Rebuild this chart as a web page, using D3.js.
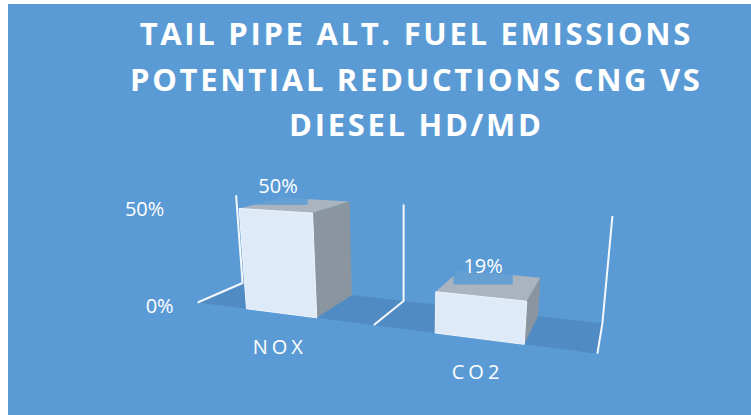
<!DOCTYPE html>
<html><head><meta charset="utf-8">
<script src="https://cdn.jsdelivr.net/npm/d3@7"></script>
<style>body{margin:0;background:#fff;overflow:hidden}</style></head>
<body>
<svg id="c" width="751" height="415"></svg>
<script>
// ---- data ----
const titleLines = ["TAIL PIPE ALT. FUEL EMISSIONS", "POTENTIAL REDUCTIONS CNG VS", "DIESEL HD/MD"];
const categories = ["NOX", "CO2"];
const values = [0.50, 0.19];
const yTicks = [0, 0.5];
const yMax = 0.5;

// ---- setup ----
const W = 751, H = 415;
const svg = d3.select("#c");
svg.append("rect").attr("x", 8).attr("y", 4).attr("width", W - 8).attr("height", H - 4).attr("fill", "#5B9BD5");

// world-space scales (3D)
const xWorld = d3.scaleBand().domain(categories).range([0, 2]).paddingInner(0.6).paddingOuter(0.3);
const yWorld = d3.scaleLinear().domain([0, yMax]).range([0, 0.51]);
const depth = 0.4;

// perspective camera
const deg = Math.PI / 180, yaw = 20.4 * deg, pitch = 15.6 * deg, focal = 607, pcx = 403, pcy = 281;
const cam = [2.061, 0.9615, -2.462];
const hf = [-Math.sin(yaw), 0, Math.cos(yaw)];
const R = [Math.cos(yaw), 0, Math.sin(yaw)];
const F = [Math.cos(pitch) * hf[0], -Math.sin(pitch), Math.cos(pitch) * hf[2]];
const U = [Math.sin(pitch) * hf[0], Math.cos(pitch), Math.sin(pitch) * hf[2]];
function proj(x, y, z) {
  const v = [x - cam[0], y - cam[1], z - cam[2]];
  const dot = a => a[0] * v[0] + a[1] * v[1] + a[2] * v[2];
  const zc = dot(F);
  return [pcx + focal * dot(R) / zc, pcy - focal * dot(U) / zc];
}
const poly = pts => pts.map(p => proj(p[0], p[1], p[2]).join(",")).join(" ");

const [x0w, x1w] = xWorld.range();

// floor
svg.append("polygon")
  .attr("points", poly([[x0w, 0, 0], [x1w, 0, 0], [x1w, 0, depth], [x0w, 0, depth]]))
  .attr("fill", "#508bc3");

// gridlines at category boundaries
const bounds = d3.range(categories.length + 1).map(i => x0w + i * xWorld.step());
const yTop = yWorld(yMax);
svg.selectAll("polyline.grid").data(bounds).join("polyline")
  .attr("class", "grid")
  .attr("points", b => [proj(b, 0, 0), proj(b, 0, depth), proj(b, yTop, depth)].map(p => p.join(",")).join(" "))
  .attr("fill", "none").attr("stroke", "#f4f8fc").attr("stroke-width", 2).attr("stroke-linejoin", "round");

// bars
const bars = categories.map((c, i) => ({ c, v: values[i], x0: xWorld(c), x1: xWorld(c) + xWorld.bandwidth(), y: yWorld(values[i]) }));
const g = svg.append("g");
bars.forEach(b => {
  g.append("polygon").attr("points", poly([[b.x0, b.y, 0], [b.x1, b.y, 0], [b.x1, b.y, depth], [b.x0, b.y, depth]]))
    .attr("fill", "#a9b4bf");
  g.append("polygon").attr("points", poly([[b.x1, 0, 0], [b.x1, 0, depth], [b.x1, b.y, depth], [b.x1, b.y, 0]]))
    .attr("fill", "#8b959f");
  g.append("polygon").attr("points", poly([[b.x0, 0, 0], [b.x1, 0, 0], [b.x1, b.y, 0], [b.x0, b.y, 0]]))
    .attr("fill", "#deeaf8").attr("stroke", "#eef4fb").attr("stroke-width", 1);
});

const fmt = d3.format(".0%");
const font = "'Open Sans', sans-serif";

// data labels with box
bars.forEach(b => {
  const xc = (b.x0 + b.x1) / 2;
  const cx = proj(xc, b.y, 0)[0] + 3;
  const boxBottom = proj(xc, b.y, depth / 2)[1];
  const lg = svg.append("g");
  const rect = lg.append("rect").attr("fill", "#5B9BD5").attr("opacity", 0.85);
  const t = lg.append("text").attr("x", cx).attr("y", boxBottom - 19)
    .attr("text-anchor", "middle").attr("dominant-baseline", "central")
    .attr("fill", "#fff").attr("font-family", font).attr("font-size", 20).text(fmt(b.v));
  const tw = t.node().getComputedTextLength();
  rect.attr("x", cx - tw / 2 - 10).attr("width", tw + 20).attr("y", boxBottom - 38).attr("height", 38);
});

// y axis labels
svg.selectAll("text.ytick").data(yTicks).join("text")
  .attr("class", "ytick")
  .attr("x", d => proj(x0w, yWorld(d), 0)[0] - 24)
  .attr("y", d => proj(x0w, yWorld(d), 0)[1] + 3)
  .attr("text-anchor", "end").attr("dominant-baseline", "central")
  .attr("fill", "#fff").attr("font-family", font).attr("font-size", 20)
  .text(d => fmt(d));

// category labels
const ls = 4;
svg.selectAll("text.cat").data(bars).join("text")
  .attr("class", "cat")
  .attr("x", b => proj((b.x0 + b.x1) / 2, 0, 0)[0] - 3 + ls / 2)
  .attr("y", b => proj((b.x0 + b.x1) / 2, 0, 0)[1] + 33)
  .attr("text-anchor", "middle").attr("dominant-baseline", "central")
  .attr("fill", "#fff").attr("font-family", font).attr("font-size", 20)
  .attr("letter-spacing", ls)
  .text(b => b.c);

// title
const tls = 2.7;
svg.selectAll("text.title").data(titleLines).join("text")
  .attr("class", "title")
  .attr("x", 415 + tls / 2)
  .attr("y", (d, i) => 45 + i * 45.5)
  .attr("text-anchor", "middle")
  .attr("fill", "#fff").attr("font-family", font).attr("font-weight", 700).attr("font-size", 31)
  .attr("letter-spacing", tls)
  .text(d => d);
</script>
</body></html>
